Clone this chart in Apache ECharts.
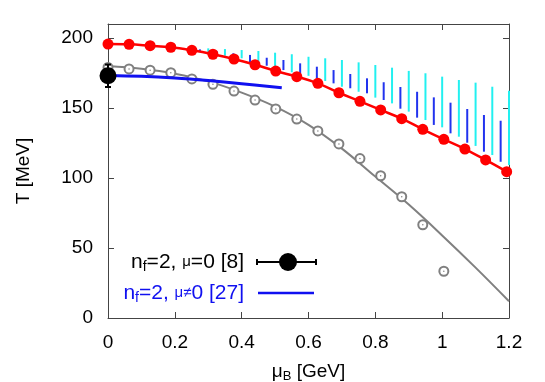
<!DOCTYPE html>
<html>
<head>
<meta charset="utf-8">
<script src="https://cdn.jsdelivr.net/npm/echarts@6/dist/echarts.min.js"></script>
<style>html,body{margin:0;padding:0;background:#fff;}#c{width:545px;height:382px;}</style>
</head>
<body>
<div id="c"></div>
<script>
// ---- data ----
const muB = [0, 0.063, 0.126, 0.188, 0.251, 0.314, 0.377, 0.440, 0.502, 0.565,
             0.628, 0.691, 0.754, 0.816, 0.879, 0.942, 1.005, 1.068, 1.130, 1.193];
const redT = [195.7, 195.5, 194.5, 193.4, 191.2, 188.4, 185.0, 180.9, 176.4, 172.4,
              167.6, 160.9, 154.8, 148.6, 142.4, 134.8, 127.6, 120.7, 112.9, 104.5];
const redEnd = [1.2, 103.2];
const grayT = [179.0, 177.9, 177.0, 175.2, 170.8, 166.9, 162.1, 155.7, 149.3, 142.1,
               133.6, 124.3, 113.9, 101.6, 86.6, 66.6, 33.4];
const grayCurve = [[0, 180], [0.1, 178], [0.2, 174.5], [0.3, 169], [0.4, 161], [0.5, 151],
                   [0.6, 138], [0.7, 121], [0.8, 101], [0.9, 81], [1.0, 59], [1.1, 36], [1.2, 12]];
const blueCurve = [[0, 173.2], [0.1, 172.6], [0.2, 171.4], [0.3, 169.6], [0.4, 167.4], [0.52, 164.4]];
const blackPoint = [0, 173, 8]; // x, T, error
// cyan bands: [mu, low, high]
const cyanBars = [
  [0.30, 189.8, 192.6], [0.35, 187.4, 192.1], [0.40, 185.5, 191.4], [0.45, 181.9, 190.7],
  [0.50, 178.4, 189.5], [0.55, 175.5, 188.4], [0.60, 173.0, 186.6], [0.65, 169.3, 185.5],
  [0.70, 165.2, 184.3], [0.75, 161.6, 182.6], [0.80, 157.4, 180.7], [0.85, 153.3, 178.8],
  [0.90, 147.4, 176.5], [0.95, 141.4, 174.8], [1.00, 136.2, 172.4], [1.05, 129.5, 170.0],
  [1.10, 122.9, 168.1], [1.15, 116.4, 165.2], [1.20, 109.3, 162.4]];
const blueBars = [
  [0.275, 190.0, 191.9], [0.325, 188.5, 190.8], [0.375, 185.9, 189.1], [0.425, 182.6, 187.9],
  [0.475, 180.2, 185.9], [0.525, 177.1, 184.3], [0.575, 174.0, 181.9], [0.625, 171.2, 179.5],
  [0.675, 167.6, 177.1], [0.725, 164.1, 174.3], [0.775, 160.5, 171.2], [0.825, 155.7, 168.4],
  [0.875, 149.5, 165.0], [0.925, 143.1, 161.6], [0.975, 137.9, 157.6], [1.025, 131.9, 153.8],
  [1.075, 125.2, 149.3], [1.125, 118.8, 145.0], [1.175, 111.6, 140.9]];
const xTicks = [0, 0.2, 0.4, 0.6, 0.8, 1, 1.2];
const yTicks = [0, 50, 100, 150, 200];

const FONT = 'Liberation Sans, Arial, Helvetica, sans-serif';
const AX = '#444';
const BLUE = '#1010f0';

const redPts = muB.map((m, i) => [m, redT[i]]);
const redLine = redPts.concat([redEnd]);
const grayPts = grayT.map((t, i) => [muB[i], t]);

function barRender(color, width) {
  return function (params, api) {
    const p1 = api.coord([api.value(0), api.value(1)]);
    const p2 = api.coord([api.value(0), api.value(2)]);
    return { type: 'line', shape: { x1: p1[0], y1: p1[1], x2: p2[0], y2: p2[1] },
             style: { stroke: color, lineWidth: width } };
  };
}

const chart = echarts.init(document.getElementById('c'), null, { renderer: 'canvas' });
const option = {
  animation: false,
  backgroundColor: '#fff',
  grid: { left: 108, right: 36, top: 24, bottom: 64, containLabel: false, outerBoundsMode: 'none' },
  xAxis: [{
    type: 'value', min: 0, max: 1.2, interval: 0.2,
    axisLine: { lineStyle: { color: AX, width: 1 } },
    axisTick: { inside: true, length: 6, lineStyle: { color: AX } },
    axisLabel: { margin: 15, fontSize: 19, fontFamily: FONT, color: '#000',
                 formatter: v => (xTicks.some(t => Math.abs(t - v) < 1e-9) ? String(+v.toFixed(1)) : '') },
    splitLine: { show: false },
    name: '{mu|μ}{sub|B} [GeV]', nameLocation: 'middle', nameGap: 42,
    nameTextStyle: { fontSize: 19, fontFamily: FONT, color: '#000',
      rich: { mu: { fontSize: 19, fontFamily: FONT }, sub: { fontSize: 13, fontFamily: FONT, padding: [10, 0, 0, 0] } } }
  }, {
    type: 'value', min: 0, max: 1.2, interval: 0.2, position: 'top',
    axisLine: { onZero: false, lineStyle: { color: AX, width: 1 } },
    axisTick: { inside: true, length: 6, lineStyle: { color: AX } },
    axisLabel: { show: false }, splitLine: { show: false }
  }],
  yAxis: [{
    type: 'value', min: 0, max: 210, interval: 50,
    axisLine: { show: true, lineStyle: { color: AX, width: 1 } },
    axisTick: { show: true, inside: true, length: 6, lineStyle: { color: AX } },
    axisLabel: { margin: 15, fontSize: 19, fontFamily: FONT, color: '#000', showMaxLabel: false,
                 formatter: v => (yTicks.indexOf(v) >= 0 ? String(v) : '') },
    splitLine: { show: false },
    name: 'T [MeV]', nameLocation: 'middle', nameGap: 75, nameRotate: 90,
    nameTextStyle: { fontSize: 19, fontFamily: FONT, color: '#000' }
  }, {
    type: 'value', min: 0, max: 210, interval: 50, position: 'right',
    axisLine: { show: true, onZero: false, lineStyle: { color: AX, width: 1 } },
    axisTick: { show: true, inside: true, length: 6, lineStyle: { color: AX } },
    axisLabel: { show: false }, splitLine: { show: false }
  }],
  series: [
    { type: 'custom', name: 'cyan', data: cyanBars, renderItem: barRender('#22f0f0', 2), z: 1, clip: false },
    { type: 'custom', name: 'blueBars', data: blueBars, renderItem: barRender('#2233ee', 2), z: 1, clip: false },
    { type: 'line', name: 'grayFit', data: grayCurve, smooth: 0.4, showSymbol: false,
      lineStyle: { color: '#808080', width: 2 }, z: 2 },
    { type: 'scatter', name: 'gray', data: grayPts, symbol: 'emptyCircle', symbolSize: 9,
      itemStyle: { color: '#808080', borderColor: '#808080', borderWidth: 2, opacity: 1 }, z: 3 },
    { type: 'scatter', name: 'grayDot', data: grayPts, symbol: 'circle', symbolSize: 1.5,
      itemStyle: { color: '#808080', opacity: 1 }, z: 4 },
    { type: 'line', name: 'blueFit', data: blueCurve, smooth: 0.4, showSymbol: false,
      lineStyle: { color: BLUE, width: 3 }, z: 5 },
    { type: 'line', name: 'redFit', data: redLine, smooth: 0.4, showSymbol: false,
      lineStyle: { color: '#f00', width: 2.5 }, z: 6 },
    { type: 'scatter', name: 'red', data: redPts, symbol: 'circle', symbolSize: 11,
      itemStyle: { color: '#f00', opacity: 1 }, z: 7 },
    { type: 'custom', name: 'err', data: [blackPoint], clip: false, z: 8,
      renderItem: function (params, api) {
        const c = api.coord([api.value(0), api.value(1)]);
        const t = api.coord([api.value(0), api.value(1) + api.value(2)]);
        const b = api.coord([api.value(0), api.value(1) - api.value(2)]);
        return { type: 'group', children: [
          { type: 'line', shape: { x1: t[0], y1: t[1], x2: b[0], y2: b[1] }, style: { stroke: '#000', lineWidth: 2 } },
          { type: 'line', shape: { x1: t[0] - 3, y1: t[1], x2: t[0] + 3, y2: t[1] }, style: { stroke: '#000', lineWidth: 2 } },
          { type: 'line', shape: { x1: b[0] - 3, y1: b[1], x2: b[0] + 3, y2: b[1] }, style: { stroke: '#000', lineWidth: 2 } },
          { type: 'circle', shape: { cx: c[0], cy: c[1], r: 8.5 }, style: { fill: '#000' } }
        ] };
      } }
  ],
  graphic: [
    { type: 'text', x: 244, y: 262, z: 100,
      style: { text: 'n{sub|f}=2, {mu|μ}=0 [8]', align: 'right', verticalAlign: 'middle', fill: '#000',
        font: '21px ' + FONT,
        rich: { sub: { fontSize: 14, fontFamily: FONT, padding: [11, 0, 0, 0], fill: '#000' },
                mu: { fontSize: 15, fontFamily: FONT, fill: '#000' } } } },
    { type: 'line', z: 100, shape: { x1: 257, y1: 262, x2: 316, y2: 262 }, style: { stroke: '#000', lineWidth: 2 } },
    { type: 'line', z: 100, shape: { x1: 257, y1: 259, x2: 257, y2: 265 }, style: { stroke: '#000', lineWidth: 2 } },
    { type: 'line', z: 100, shape: { x1: 316, y1: 259, x2: 316, y2: 265 }, style: { stroke: '#000', lineWidth: 2 } },
    { type: 'circle', z: 100, shape: { cx: 288, cy: 262, r: 9 }, style: { fill: '#000' } },
    { type: 'text', x: 244, y: 293, z: 100,
      style: { text: 'n{sub|f}=2, {mu|μ≠}0 [27]', align: 'right', verticalAlign: 'middle', fill: BLUE,
        font: '21px ' + FONT,
        rich: { sub: { fontSize: 14, fontFamily: FONT, padding: [11, 0, 0, 0], fill: BLUE },
                mu: { fontSize: 15, fontFamily: FONT, fill: BLUE } } } },
    { type: 'line', z: 100, shape: { x1: 258, y1: 293, x2: 314, y2: 293 }, style: { stroke: BLUE, lineWidth: 2.5 } }
  ]
};
chart.setOption(option);
</script>
</body>
</html>
